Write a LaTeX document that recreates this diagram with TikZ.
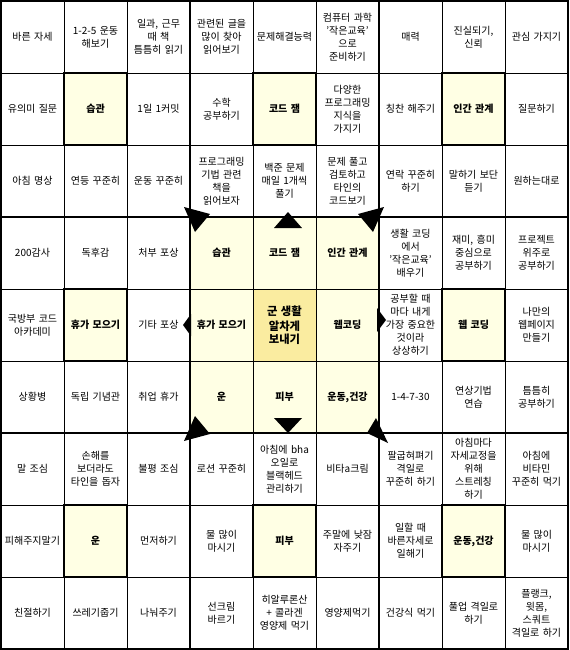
\documentclass[tikz,border=0pt]{standalone}
\usepackage{fontspec}
\setmainfont{Noto Sans CJK KR}
\usetikzlibrary{backgrounds}
\definecolor{themeback}{RGB}{255,255,228}
\definecolor{goalback}{RGB}{250,236,160}
\tikzset{
  cellbox/.style={draw,line width=0.75pt,minimum width=47.25pt,minimum height=54pt,
    inner sep=0pt,outer sep=0pt,text width=46pt,align=center,
    font=\fontsize{7.5}{9.75}\selectfont},
  heavy/.style={line width=1.6pt},
  tipfill/.style={fill=black}
}

\begin{document}
\begin{tikzpicture}[x=0.75pt,y=-0.75pt]
\useasboundingbox (0,0) rectangle (570,650);
% row 1
\foreach \txt [count=\c] in {바른 자세, {1-2-5 운동\\해보기}, {일과, 근무\\때 책\\틈틈히 읽기},
  {관련된 글을\\많이 찾아\\읽어보기}, 문제해결능력, {컴퓨터 과학\\'작은교육'\\으로\\준비하기},
  매력, {진실되기,\\신뢰}, 관심 가지기}
  \node[cellbox] (r1c\c) at ({63*\c-30.5},37) {\txt};
% row 2
\foreach \txt [count=\c] in {유의미 질문, {\textbf{습관}}, 1일 1커밋, {수학\\공부하기},
  {\textbf{코드 잼}}, {다양한\\프로그래밍\\지식을\\가지기}, 칭찬 해주기, {\textbf{인간 관계}}, 질문하기}
  \node[cellbox] (r2c\c) at ({63*\c-30.5},109) {\txt};
% row 3
\foreach \txt [count=\c] in {아침 명상, 연등 꾸준히, 운동 꾸준히, {프로그래밍\\기법 관련\\책을\\읽어보자},
  {백준 문제\\매일 1개씩\\풀기}, {문제 풀고\\검토하고\\타인의\\코드보기}, {연락 꾸준히\\하기},
  {말하기 보단\\듣기}, 원하는대로}
  \node[cellbox] (r3c\c) at ({63*\c-30.5},181) {\txt};
% row 4
\foreach \txt [count=\c] in {200감사, 독후감, 처부 포상, {\textbf{습관}}, {\textbf{코드 잼}},
  {\textbf{인간 관계}}, {생활 코딩\\에서\\'작은교육'\\배우기}, {재미, 흥미\\중심으로\\공부하기},
  {프로젝트\\위주로\\공부하기}}
  \node[cellbox] (r4c\c) at ({63*\c-30.5},253) {\txt};
% row 5
\foreach \txt [count=\c] in {{국방부 코드\\아카데미}, {\textbf{휴가 모으기}}, 기타 포상,
  {\textbf{휴가 모으기}}, {\fontsize{8.5}{11}\selectfont\textbf{군 생활\\알차게\\보내기}}, {\textbf{웹코딩}},
  {공부할 때\\마다 내게\\가장 중요한\\것이라\\상상하기}, {\textbf{웹 코딩}}, {나만의\\웹페이지\\만들기}}
  \node[cellbox] (r5c\c) at ({63*\c-30.5},325) {\txt};
% row 6
\foreach \txt [count=\c] in {상황병, 독립 기념관, 취업 휴가, {\textbf{운}}, {\textbf{피부}},
  {\textbf{운동,건강}}, 1-4-7-30, {연상기법\\연습}, {틈틈히\\공부하기}}
  \node[cellbox] (r6c\c) at ({63*\c-30.5},397) {\txt};
% row 7
\foreach \txt [count=\c] in {말 조심, {손해를\\보더라도\\타인을 돕자}, 불평 조심, 로션 꾸준히,
  {아침에 bha\\오일로\\블랙헤드\\관리하기}, 비타a크림, {팔굽혀펴기\\격일로\\꾸준히 하기},
  {아침마다\\자세교정을\\위해\\스트레칭\\하기}, {아침에\\비타민\\꾸준히 먹기}}
  \node[cellbox] (r7c\c) at ({63*\c-30.5},469) {\txt};
% row 8
\foreach \txt [count=\c] in {피해주지말기, {\textbf{운}}, 먼저하기, {물 많이\\마시기}, {\textbf{피부}},
  {주말에 낮잠\\자주기}, {일할 때\\바른자세로\\일해기}, {\textbf{운동,건강}}, {물 많이\\마시기}}
  \node[cellbox] (r8c\c) at ({63*\c-30.5},541) {\txt};
% row 9
\foreach \txt [count=\c] in {친절하기, 쓰레기줍기, 나눠주기, {선크림\\바르기},
  {히알루론산\\+ 콜라겐\\영양제 먹기}, 영양제먹기, 건강식 먹기, {풀업 격일로\\하기},
  {플랭크,\\윗몸,\\스쿼트\\격일로 하기}}
  \node[cellbox] (r9c\c) at ({63*\c-30.5},613) {\txt};

\begin{pgfonlayer}{background}
\foreach \n in {r2c2,r2c5,r2c8,r5c2,r5c8,r8c2,r8c5,r8c8,
  r4c4,r4c5,r4c6,r5c4,r5c6,r6c4,r6c5,r6c6}
  \fill[themeback] (\n.south west) rectangle (\n.north east);
\fill[goalback] (r5c5.south west) rectangle (r5c5.north east);
\end{pgfonlayer}

% heavy frames
\foreach \a/\b in {r1c1/r3c3,r1c4/r3c6,r1c7/r3c9,r4c1/r6c3,r4c4/r6c6,r4c7/r6c9,
  r7c1/r9c3,r7c4/r9c6,r7c7/r9c9}
  \draw[heavy] (\a.north west) rectangle (\b.south east);
\foreach \n in {r2c2,r2c5,r2c8,r5c2,r5c8,r8c2,r8c5,r8c8}
  \draw[heavy] (\n.south west) rectangle (\n.north east);

% arrow tips
\fill[tipfill] (288,212) -- (274,228) -- (302,228) -- cycle;
\fill[tipfill] (288,433) -- (274,418) -- (302,418) -- cycle;
\fill[tipfill] (183,325) -- (191,314) -- (191,336) -- cycle;
\fill[tipfill] (386,320) -- (377,308) -- (377,332) -- cycle;
\fill[tipfill] (184,207) -- (210,214) -- (195,232) -- cycle;
\fill[tipfill] (384,207) -- (358,214) -- (373,232) -- cycle;
\fill[tipfill] (184,441) -- (210,434) -- (195,416) -- cycle;
\fill[tipfill] (388,443) -- (367,433) -- (376,418) -- cycle;
\end{tikzpicture}
\end{document}
